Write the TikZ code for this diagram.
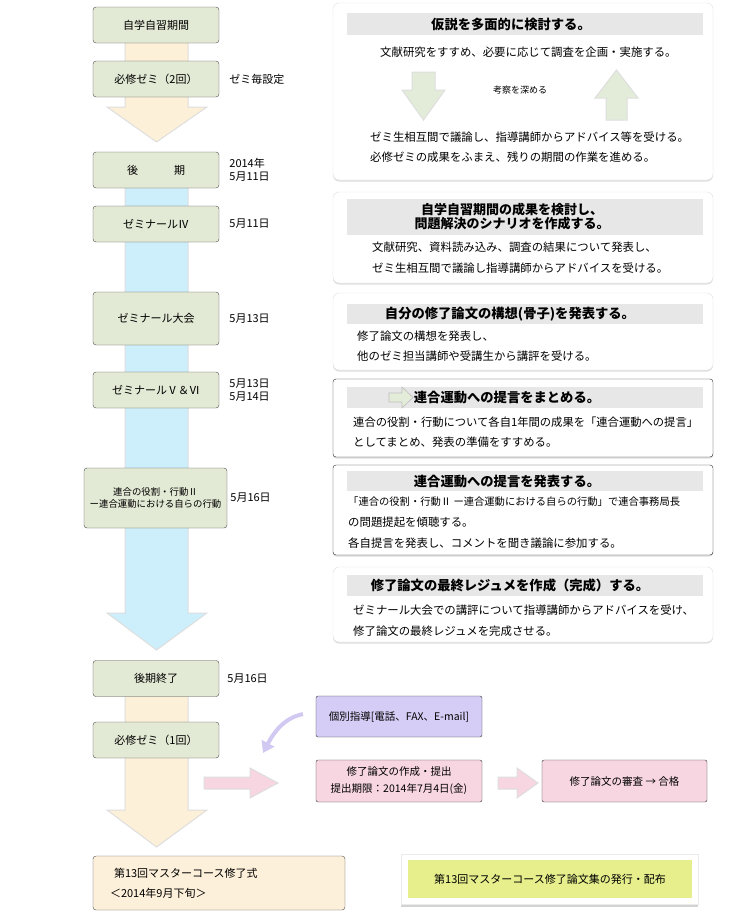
\documentclass[tikz,border=0pt]{standalone}
\usepackage{fontspec}
\setmainfont{Noto Sans CJK JP}
\usetikzlibrary{arrows.meta,shadows,positioning}

\definecolor{stagegreen}{HTML}{E2E9D4}
\definecolor{orangeflow}{HTML}{FDF0D8}
\definecolor{blueflow}{HTML}{CDEEFB}
\definecolor{bandgray}{HTML}{E7E7E7}
\definecolor{smallgreen}{HTML}{E3ECD8}
\definecolor{lavender}{HTML}{D6CDF6}
\definecolor{lavarrow}{HTML}{D2C9F2}
\definecolor{pinkbox}{HTML}{F7D6E1}
\definecolor{yellowbox}{HTML}{E6EF8C}
\definecolor{cream}{HTML}{FDF0DA}

\begin{document}
\begin{tikzpicture}[x=1pt,y=-1pt,
    stage/.style={draw=black!70,fill=stagegreen,rounded corners=3pt,minimum width=126pt,minimum height=36pt,inner sep=1pt,align=center,font=\fontsize{11}{13}\selectfont},
    date/.style={anchor=west,align=left,inner sep=0pt,font=\fontsize{11}{13}\selectfont},
    panel/.style={fill=white,draw=black!12,rounded corners=6pt,minimum width=380pt,drop shadow={shadow xshift=0pt,shadow yshift=-1.5pt,opacity=0.25}},
    boxed/.style={panel,draw=black!85,rounded corners=3pt},
    band/.style={fill=bandgray,minimum width=356pt,inner sep=0pt},
    bandtitle/.style={inner sep=0pt,align=center,font=\fontsize{13.3}{14}\selectfont\bfseries},
    paneltext/.style={anchor=west,inner sep=0pt,font=\fontsize{11.4}{13}\selectfont},
    minibox/.style={draw=black!80,rounded corners=2pt,inner sep=1pt,align=center,font=\fontsize{10.5}{17}\selectfont},
    flow/.style={draw=black!13,line width=1pt}]
  \useasboundingbox (0,0) rectangle (732,922);
  % the wide arrows behind the left column: top y, start of the head, tip, colour
  \def\blockdown#1#2#3#4{\filldraw[flow,fill=#4] (125,#1) -- (125,#2) -- (107,#2) -- (156.5,#3) -- (207,#2) -- (188,#2) -- (188,#1) -- cycle;}
  % pink arrows to the right: x start, start of the head, tip
  \def\blockright#1#2#3{\filldraw[flow,fill=pinkbox] (#1,777) -- (#2,777) -- (#2,768) -- (#3,783) -- (#2,798) -- (#2,789) -- (#1,789) -- cycle;}
  \blockdown{25}{107}{142}{orangeflow}
  \blockdown{170}{613}{650}{blueflow}
  \blockdown{680}{810}{847}{orangeflow}

  \node[stage] (jishu) at (156,25) {自学自習期間};
  \node[stage] (hisshu2) at (156,79) {必修ゼミ（2回）};
  \node[stage] (kouki) at (156,170) {後\hspace{36pt}期};
  \node[stage] (zemi4) at (156,224) {ゼミナールⅣ};
  \node[stage,minimum height=53pt] (taikai) at (156,318.5) {ゼミナール大会};
  \node[stage] (zemi56) at (156,390) {ゼミナールⅤ＆Ⅵ};
  \node[stage,minimum width=143pt,minimum height=60pt,font=\fontsize{9.4}{11.5}\selectfont] (rengo) at (155.5,498) {連合の役割・行動Ⅱ\\ー連合運動における自らの行動};
  \node[stage] (shuryo) at (156,678.5) {後期終了};
  \node[stage] (hisshu1) at (156,740) {必修ゼミ（1回）};
  \node[stage,fill=cream,minimum width=252pt,minimum height=54pt,align=left,text width=218pt,inner xsep=17pt,font=\fontsize{11}{20}\selectfont] (shiki) at (219,883) {\hspace{4pt}第13回マスターコース修了式\\＜2014年9月下旬＞};

  \node[date] (d1) [right=10pt of hisshu2] {ゼミ毎設定};
  \node[date] (d2) [right=10pt of kouki] {2014年\\5月11日};
  \node[date] (d3) [right=10pt of zemi4] {5月11日};
  \node[date] (d4) [right=10pt of taikai] {5月13日};
  \node[date] (d5) [right=10pt of zemi56] {5月13日\\5月14日};
  \node[date] (d6) [right=3pt of rengo] {5月16日};
  \node[date] (d7) [right=8pt of shuryo] {5月16日};

  % right column
  \node[panel,minimum height=177pt] (p1) at (523,91.5) {};
  \node[band,minimum height=22pt] (p1band) at (525,24) {};
  \node[bandtitle] (p1title) at (511,24) {仮説を多面的に検討する。};
  \node[paneltext] (p1a) at (380,52) {文献研究をすすめ、必要に応じて調査を企画・実施する。};
  \filldraw[flow,fill=smallgreen] (412,72) -- (412,90) -- (402,90) -- (423.5,120) -- (445,90) -- (435,90) -- (435,72) -- cycle;
  \filldraw[flow,fill=smallgreen] (606,120) -- (606,98) -- (595,98) -- (616.5,70) -- (638,98) -- (627,98) -- (627,120) -- cycle;
  \node[font=\fontsize{9}{10}\selectfont,inner sep=0pt] (p1mid) at (520,90) {考察を深める};
  \node[paneltext] (p1b) at (370,137) {ゼミ生相互間で議論し、指導講師からアドバイス等を受ける。};
  \node[paneltext] (p1c) at (370,157) {必修ゼミの成果をふまえ、残りの期間の作業を進める。};

  \node[panel,minimum height=91pt] (p2) at (523,237.5) {};
  \node[band,minimum height=36pt] (p2band) at (525,217) {};
  \node[bandtitle,font=\fontsize{13}{14}\selectfont\bfseries] (p2title) at (512,217) {自学自習期間の成果を検討し、\\問題解決のシナリオを作成する。};
  \node[paneltext] (p2a) at (372,247) {文献研究、資料読み込み、調査の結果について発表し、};
  \node[paneltext] (p2b) at (372,268) {ゼミ生相互間で議論し指導講師からアドバイスを受ける。};

  \node[panel,minimum height=77pt] (p3) at (523,331.5) {};
  \node[band,minimum height=20pt] (p3band) at (525,314) {};
  \node[bandtitle] (p3title) at (510,314) {自分の修了論文の構想(骨子)を発表する。};
  \node[paneltext] (p3a) at (357,336) {修了論文の構想を発表し、};
  \node[paneltext] (p3b) at (357,356) {他のゼミ担当講師や受講生から講評を受ける。};

  \node[boxed,minimum height=78pt] (p4) at (523,418) {};
  \node[band,minimum height=21pt] (p4band) at (525,397.5) {};
  \filldraw[fill=smallgreen,draw=black!25,line width=.6pt] (389,393) -- (402,393) -- (402,387) -- (413,397.5) -- (402,408) -- (402,402) -- (389,402) -- cycle;
  \node[bandtitle] (p4title) at (507,397.5) {連合運動への提言をまとめる。};
  \node[paneltext,font=\fontsize{11.3}{13}\selectfont] (p4a) at (353,422) {連合の役割・行動について各自1年間の成果を「連合運動への提言」};
  \node[paneltext] (p4b) at (353,442) {としてまとめ、発表の準備をすすめる。};

  \node[boxed,minimum height=90pt] (p5) at (523,510) {};
  \node[band,minimum height=20pt] (p5band) at (525,481) {};
  \node[bandtitle] (p5title) at (507,481) {連合運動への提言を発表する。};
  \node[paneltext,font=\fontsize{10.3}{12}\selectfont] (p5a) at (348,502) {「連合の役割・行動Ⅱ ー連合運動における自らの行動」で連合事務局長};
  \node[paneltext] (p5b) at (348,522) {の問題提起を傾聴する。};
  \node[paneltext] (p5c) at (348,543) {各自提言を発表し、コメントを聞き議論に参加する。};

  \node[panel,minimum height=75pt] (p6) at (523,604.5) {};
  \node[band,minimum height=21pt] (p6band) at (525,585.5) {};
  \node[bandtitle] (p6title) at (510,585.5) {修了論文の最終レジュメを作成（完成）する。};
  \node[paneltext] (p6a) at (353,610) {ゼミナール大会での講評について指導講師からアドバイスを受け、};
  \node[paneltext] (p6b) at (353,631) {修了論文の最終レジュメを完成させる。};

  % bottom row
  \node[minibox,fill=lavender,minimum width=166pt,minimum height=41pt] (kobetsu) at (399,716.5) {個別指導[電話、FAX、E-mail]};
  \node[minibox,fill=pinkbox,minimum width=166pt,minimum height=42pt] (teishutsu) at (399,781) {修了論文の作成・提出\\提出期限：2014年7月4日(金)};
  \node[minibox,fill=pinkbox,minimum width=165pt,minimum height=42pt] (shinsa) at (624.5,781) {修了論文の審査 → 合格};
  \blockright{204}{250}{278}
  \blockright{498}{517}{538}
  \coordinate (cstart) at (303,714);
  \coordinate (cend) at (263,753);
  \draw[lavarrow,line width=4pt,-{Triangle[width=14pt,length=11pt]}] (cstart) .. controls (284,718) and (274,732) .. (cend);

  \node[fill=white,draw=black!8,minimum width=297pt,minimum height=50pt,drop shadow={shadow xshift=0pt,shadow yshift=-3pt,opacity=0.35}] (frame) at (549.5,879) {};
  \node[fill=yellowbox,minimum width=284pt,minimum height=38pt,font=\fontsize{11}{13}\selectfont] (shuu) at (550,879) {第13回マスターコース修了論文集の発行・配布};
\end{tikzpicture}
\end{document}
